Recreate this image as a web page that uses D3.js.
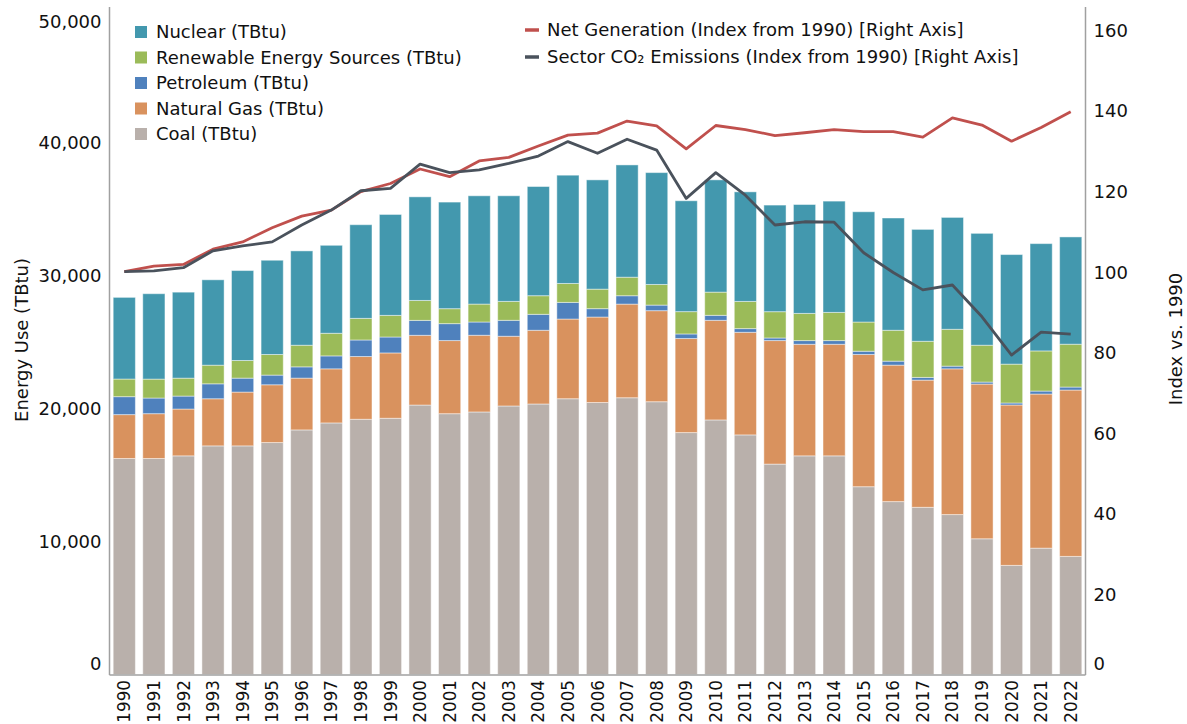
<!DOCTYPE html>
<html><head><meta charset="utf-8">
<script src="https://cdn.jsdelivr.net/npm/d3@7"></script>
<style>
body{margin:0;background:#fff;}
svg text{font-family:"DejaVu Sans",Verdana,sans-serif;fill:#111;}
</style></head>
<body><svg id="chart" width="1187" height="724"></svg>
<script>
const years = d3.range(1990, 2023).map(String);
const coal = [16240,16240,16440,17190,17190,17440,18390,18915,19190,19265,20260,19610,19740,20190,20340,20735,20450,20810,20510,18190,19140,18015,15820,16440,16440,14120,13000,12570,12025,10205,8205,9500,8880];
const naturalGas = [3300,3371,3520,3543,4045,4344,3895,4067,4718,4913,5243,5498,5767,5243,5542,5992,6427,7040,6846,7071,7490,7715,9288,8389,8389,9939,10261,9564,10958,11632,12059,11587,12508];
const petroleum = [1350,1176,974,1123,1048,727,846,973,1244,1198,1123,1273,996,1198,1199,1251,629,629,419,344,375,277,195,277,277,247,299,203,202,150,150,224,225];
const renewables = [1325,1423,1348,1401,1326,1550,1626,1701,1625,1626,1498,1124,1348,1423,1400,1423,1468,1393,1551,1678,1745,2044,1977,2045,2120,2195,2322,2718,2771,2771,2921,3019,3221];
const nuclear = [6140,6420,6465,6419,6763,7086,7093,6614,7041,7587,7790,8014,8142,7940,8209,8141,8216,8442,8411,8336,8441,8239,8014,8186,8366,8291,8441,8412,8411,8411,8239,8067,8066];
const netGeneration = [100,101.4,101.8,105.6,107.4,110.9,113.8,115.3,119.9,121.9,125.5,123.6,127.5,128.4,131.2,133.9,134.4,137.4,136.2,130.5,136.3,135.3,133.8,134.5,135.3,134.8,134.8,133.4,138.2,136.4,132.4,135.8,139.7];
const co2Emissions = [100,100.2,101.0,105.2,106.4,107.4,111.6,115.3,120.1,120.7,126.7,124.6,125.3,126.9,128.7,132.3,129.4,132.9,130.2,118.2,124.6,119.0,111.6,112.4,112.3,104.7,99.8,95.5,96.7,88.8,79.3,85.0,84.5];
const leftTicks = [0,10000,20000,30000,40000,50000];
const rightTicks = [0,20,40,60,80,100,120,140,160];

const barSeries = [
  {key:"coal", name:"Coal (TBtu)", values:coal, color:"#B9B0AB"},
  {key:"gas", name:"Natural Gas (TBtu)", values:naturalGas, color:"#D9925E"},
  {key:"pet", name:"Petroleum (TBtu)", values:petroleum, color:"#4F81BD"},
  {key:"ren", name:"Renewable Energy Sources (TBtu)", values:renewables, color:"#9BBB59"},
  {key:"nuc", name:"Nuclear (TBtu)", values:nuclear, color:"#4398AE"}
];
const lineSeries = [
  {name:"Net Generation (Index from 1990) [Right Axis]", values:netGeneration, color:"#C0504D"},
  {name:"Sector CO\u2082 Emissions (Index from 1990) [Right Axis]", values:co2Emissions, color:"#4A525C"}
];

const FS = "18px";
const L = 109.5, R = 1085.5, T = 9.5, B = 674.5;
const svg = d3.select("#chart");
const x = d3.scaleBand().domain(years).range([L, R]).paddingInner(0.25).paddingOuter(0.125);
const y = d3.scaleLinear().domain([0, 50000]).range([B, T]);
const y2 = d3.scaleLinear().domain([0, 165.1]).range([B, T]);

const table = years.map((yr, i) => {
  const o = {year: yr};
  barSeries.forEach(s => o[s.key] = s.values[i]);
  return o;
});
const stack = d3.stack().keys(barSeries.map(s => s.key))(table);

const gBars = svg.append("g");
stack.forEach((layer, li) => {
  gBars.append("g").attr("fill", barSeries[li].color)
    .attr("stroke", "rgba(255,255,255,0.45)").attr("stroke-width", 1)
    .selectAll("rect").data(layer).join("rect")
    .attr("x", d => x(d.data.year))
    .attr("width", x.bandwidth())
    .attr("y", d => y(d[1]))
    .attr("height", d => y(d[0]) - y(d[1]));
});

lineSeries.forEach(s => {
  const line = d3.line().x((d, i) => x(years[i]) + x.bandwidth() / 2).y(d => y2(d));
  svg.append("path").datum(s.values).attr("d", line)
    .attr("fill", "none").attr("stroke", s.color).attr("stroke-width", 2.8)
    .attr("stroke-linejoin", "round");
});

// axes
const axL = svg.append("g").attr("transform", `translate(${L},0)`)
  .call(d3.axisLeft(y).tickValues(leftTicks).tickSize(0).tickPadding(8).tickFormat(d3.format(",")));
axL.select(".domain").remove();
axL.selectAll("text").style("font-size", FS).style("font-family", "DejaVu Sans")
  .attr("dy", d => d === 0 ? "-0.3em" : d === 50000 ? "1.0em" : "0.35em");

const axR = svg.append("g").attr("transform", `translate(${R},0)`)
  .call(d3.axisRight(y2).tickValues(rightTicks).tickSize(0).tickPadding(8));
axR.select(".domain").remove();
axR.selectAll("text").style("font-size", FS).style("font-family", "DejaVu Sans")
  .attr("dy", d => d === 0 ? "-0.3em" : "0.35em");

const axB = svg.append("g").attr("transform", `translate(0,${B})`)
  .call(d3.axisBottom(x).tickSize(0));
axB.select(".domain").remove();
axB.selectAll("text").style("font-size", "16.8px").style("font-family", "DejaVu Sans")
  .attr("transform", "rotate(-90)").attr("x", -5.5).attr("y", 0).attr("dy", "0.36em")
  .style("text-anchor", "end");

svg.append("line").attr("x1", L).attr("x2", L).attr("y1", 7).attr("y2", B + 0.5).attr("stroke", "#A0A0A0").attr("stroke-width", 1.5);
svg.append("line").attr("x1", R).attr("x2", R).attr("y1", 7).attr("y2", B + 0.5).attr("stroke", "#A0A0A0").attr("stroke-width", 1.5);
svg.append("line").attr("x1", L).attr("x2", R).attr("y1", B + 0.5).attr("y2", B + 0.5).attr("stroke", "#A0A0A0").attr("stroke-width", 1.5);

svg.append("text").attr("transform", "translate(22,340) rotate(-90)").attr("text-anchor", "middle")
  .attr("dy", "0.35em").style("font-size", FS).text("Energy Use (TBtu)");
svg.append("text").attr("transform", "translate(1176,339) rotate(-90)").attr("text-anchor", "middle")
  .attr("dy", "0.35em").style("font-size", FS).text("Index vs. 1990");

// legends
const legendOrder = barSeries.slice().reverse();
const lg = svg.append("g");
legendOrder.forEach((s, i) => {
  const cy = 32 + i * 25.5;
  lg.append("rect").attr("x", 135).attr("y", cy - 6).attr("width", 12).attr("height", 12).attr("fill", s.color);
  lg.append("text").attr("x", 156).attr("y", cy).attr("dy", "0.35em").style("font-size", FS).text(s.name);
});
lineSeries.forEach((s, i) => {
  const cy = 30 + i * 27;
  lg.append("line").attr("x1", 525).attr("x2", 539).attr("y1", cy).attr("y2", cy)
    .attr("stroke", s.color).attr("stroke-width", 3.5);
  lg.append("text").attr("x", 547).attr("y", cy).attr("dy", "0.35em").style("font-size", FS).text(s.name);
});
</script></body></html>
